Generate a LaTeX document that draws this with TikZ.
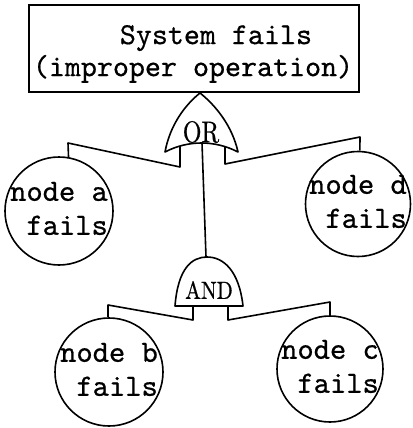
\documentclass[tikz,border=0pt]{standalone}
\usepackage{fontspec}
\newfontfamily\typew[FakeBold=0.6]{lmmono10-regular.otf}
\newfontfamily\gatefont[FakeBold=0.8]{lmroman10-regular.otf}
\newcommand{\twoline}[2]{\makebox[0pt]{\begin{tabular}{@{}r@{}}#1\\#2\end{tabular}}}
\begin{document}
\begin{tikzpicture}[x=1pt, y=-1pt,
  wire/.style={line width=1.6pt, line join=round},
  event/.style={circle, draw, line width=1.6pt, inner sep=0pt,
    font=\typew\fontsize{31}{34}\selectfont},
  gatelabel/.style={inner sep=0pt}]
\useasboundingbox (0,0) rectangle (412,428);

% top event
\node[draw, line width=1.6pt, minimum width=330pt, minimum height=87pt, inner sep=0pt] (top) at (194,48.5) {};
\node[font=\typew\fontsize{30.5}{32}\selectfont, align=left, inner sep=0pt] (toptext) at (193,54)
  {\hspace*{87pt}System fails\\(improper operation)};

% OR gate
\draw[wire] (165,152) .. controls (170,125) and (185,105) .. (200,93)
  .. controls (215,105) and (232,125) .. (238,152)
  .. controls (215,140) and (188,140) .. (165,152) -- cycle;
\node[gatelabel, font=\gatefont\fontsize{24}{24}\selectfont] (orlabel) at (201,132) {\scalebox{1}[1.25]{OR}};
\coordinate (orin1) at (180,146);
\coordinate (orin2) at (202,143);
\coordinate (orin3) at (225,146);

% AND gate
\draw[wire] (175,306) .. controls (178,268) and (192,257) .. (207,257)
  .. controls (223,257) and (239,270) .. (243,306) -- cycle;
\node[gatelabel, font=\gatefont\fontsize{21}{21}\selectfont] (andlabel) at (209,290) {\scalebox{1}[1.18]{AND}};
\coordinate (andtop) at (206,257);
\coordinate (andin1) at (193,306);
\coordinate (andin2) at (228,306);

% basic events
\node[event, minimum size=108pt] (a) at (59,211) {\twoline{node a}{fails}};
\node[event, minimum size=105pt] (d) at (358,204) {\twoline{node d}{fails}};
\node[event, minimum size=108pt] (b) at (109,372) {\twoline{node b}{fails}};
\node[event, minimum size=106pt] (c) at (330,369) {\twoline{node c}{fails}};

% connections
\draw[wire] (orin2) -- (andtop);
\draw[wire] (orin1) -- (180,167) -- (68,143) -- (a.80);
\draw[wire] (orin3) -- (225,164) -- (360,137) -- (d.88);
\draw[wire] (andin1) -- (193,320) -- (108,305) -- (b.91);
\draw[wire] (andin2) -- (228,320) -- (330,302) -- (c.90);
\end{tikzpicture}
\end{document}
